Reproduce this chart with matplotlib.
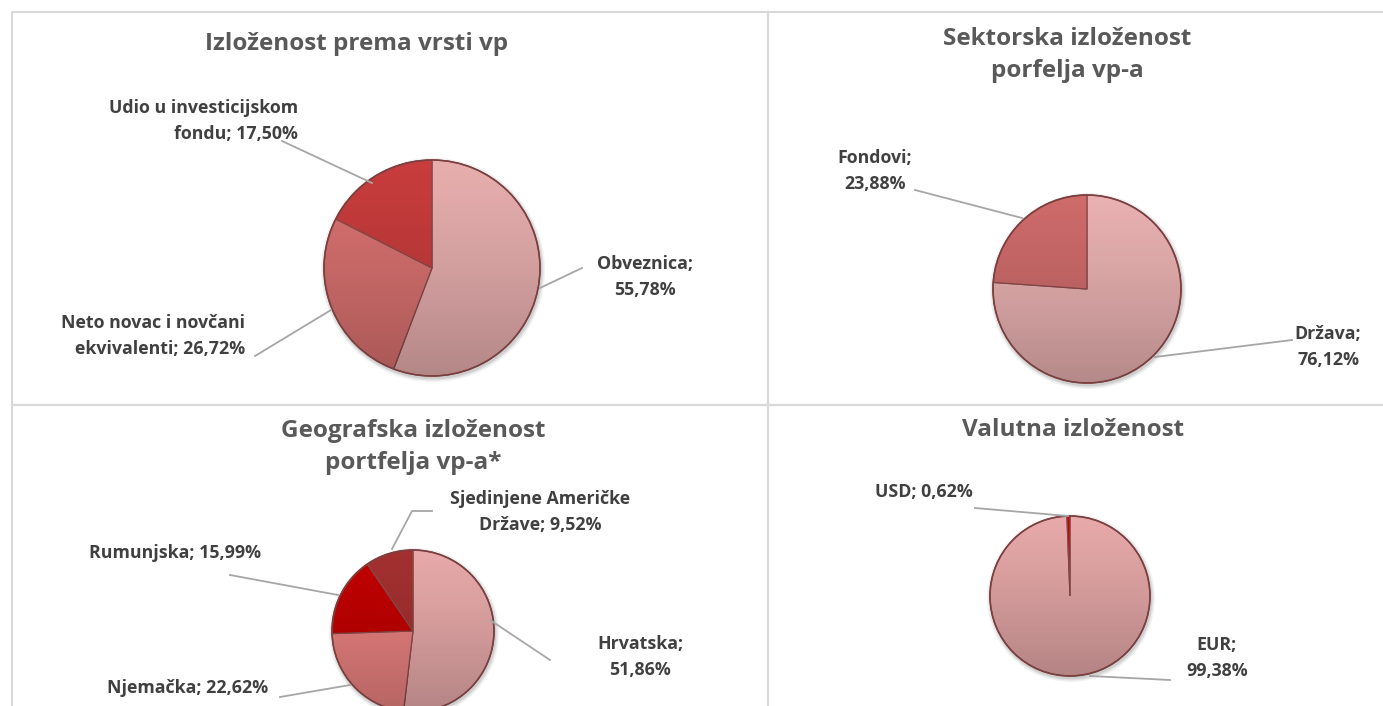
import matplotlib
matplotlib.use("Agg")
import numpy as np
import matplotlib.pyplot as plt
from matplotlib.patches import Rectangle, Circle
from matplotlib.lines import Line2D

W, H = 1383, 706

# ---- data ----
t1_title = "Izloženost prema vrsti vp"
t1_labels = ["Obveznica;\n55,78%", "Neto novac i novčani\nekvivalenti; 26,72%", "Udio u investicijskom\nfondu; 17,50%"]
t1_values = [55.78, 26.72, 17.50]

t2_title = "Sektorska izloženost\nporfelja vp-a"
t2_labels = ["Država;\n76,12%", "Fondovi;\n23,88%"]
t2_values = [76.12, 23.88]

t3_title = "Geografska izloženost\nportfelja vp-a*"
t3_labels = ["Hrvatska;\n51,86%", "Njemačka; 22,62%", "Rumunjska; 15,99%", "Sjedinjene Američke\nDržave; 9,52%"]
t3_values = [51.86, 22.62, 15.99, 9.52]

t4_title = "Valutna izloženost"
t4_labels = ["EUR;\n99,38%", "USD; 0,62%"]
t4_values = [99.38, 0.62]

# ---- style ----
TXT = "#404040"
TTL = "#595959"
FONT = "Open Sans"
plt.rcParams["font.family"] = [FONT, "DejaVu Sans"]

fig = plt.figure(figsize=(W / 100, H / 100), dpi=100)
ax = fig.add_axes([0, 0, 1, 1])
ax.set_xlim(0, W)
ax.set_ylim(0, H)
ax.set_aspect("equal")
ax.axis("off")

def Y(py):
    return H - py

# panel borders
bc = "#d9d9d9"
for (x0, y0, x1, y1) in [(12, 12, 768, 405), (768, 12, 1400, 405), (12, 405, 768, 720), (768, 405, 1400, 720)]:
    ax.add_patch(Rectangle((x0, Y(y1)), x1 - x0, y1 - y0, fill=False, ec=bc, lw=1.5))

grad = np.linspace(0, 1, 256).reshape(-1, 1)
shade = np.zeros((256, 1, 4))
shade[..., 3] = (grad[::-1] ** 1.3) * 0.22  # darker toward bottom

def pie(values, colors, cx, cy, r):
    c = (cx, Y(cy))
    # soft shadow
    for k, a in [(4, 0.05), (2.5, 0.07), (1.2, 0.08)]:
        ax.add_patch(Circle((cx + 1, Y(cy) - 2), r + k, color="black", alpha=a, lw=0, zorder=1))
    wedges, _ = ax.pie(values, colors=colors, startangle=90, counterclock=False,
                       center=c, radius=r, frame=True,
                       wedgeprops=dict(edgecolor="#8a4a4a", linewidth=0.9, zorder=2))
    im = ax.imshow(shade, extent=(cx - r, cx + r, Y(cy) - r, Y(cy) + r), origin="lower",
                   aspect="auto", zorder=3, interpolation="bilinear")
    im.set_clip_path(Circle(c, r, transform=ax.transData))
    ax.add_patch(Circle(c, r, fill=False, ec="#7a3f3f", lw=1.2, zorder=4))
    return wedges

def lead(pts):
    xs = [p[0] for p in pts]
    ys = [Y(p[1]) for p in pts]
    ax.add_line(Line2D(xs, ys, color="#a6a6a6", lw=1.3, zorder=5))

def label(x, y, s, ha="center"):
    ax.text(x, Y(y), s, ha=ha, va="center", fontsize=12.8, fontweight="bold",
            color=TXT, linespacing=1.6, multialignment=ha, zorder=6)

def title(x, y, s):
    ax.text(x, Y(y), s, ha="center", va="center", fontsize=17.5, fontweight="bold",
            color=TTL, linespacing=1.45, zorder=6)

# panel 1
title(357, 44, t1_title)
pie(t1_values, ["#e6adad", "#d8716f", "#c73c3c"], 432, 268, 108)
label(298, 121, t1_labels[2], ha="right")
lead([(282, 141), (372, 183)])
label(245, 336, t1_labels[1], ha="right")
lead([(255, 356), (331, 310)])
label(645, 277, t1_labels[0])
lead([(540, 288), (582, 268)])

# panel 2
title(1067, 55, t2_title)
pie(t2_values, ["#e8b0b0", "#cd6a6a"], 1087, 289, 94)
label(875, 171, t2_labels[1])
lead([(915, 190), (1022, 218)])
label(1328, 347, t2_labels[0])
lead([(1155, 357), (1292, 340)])

# panel 3
title(413, 447, t3_title)
pie(t3_values, ["#e6a8a8", "#e8817f", "#c00000", "#a33030"], 413, 631, 81)
label(540, 512, t3_labels[3])
lead([(392, 549), (412, 511), (432, 511)])
label(175, 553, t3_labels[2])
lead([(230, 575), (338, 595)])
label(640, 657, t3_labels[0])
lead([(490, 620), (550, 660)])
label(188, 688, t3_labels[1])
lead([(280, 697), (350, 685)])

# panel 4
title(1073, 430, t4_title)
pie(t4_values, ["#e6a8a8", "#c00000"], 1070, 596, 80)
label(924, 492, t4_labels[1])
lead([(975, 508), (1068, 516)])
label(1217, 658, t4_labels[0])
lead([(1090, 676), (1170, 680)])

ax.set_xlim(0, W)
ax.set_ylim(0, H)
fig.savefig("out.png", dpi=100)
